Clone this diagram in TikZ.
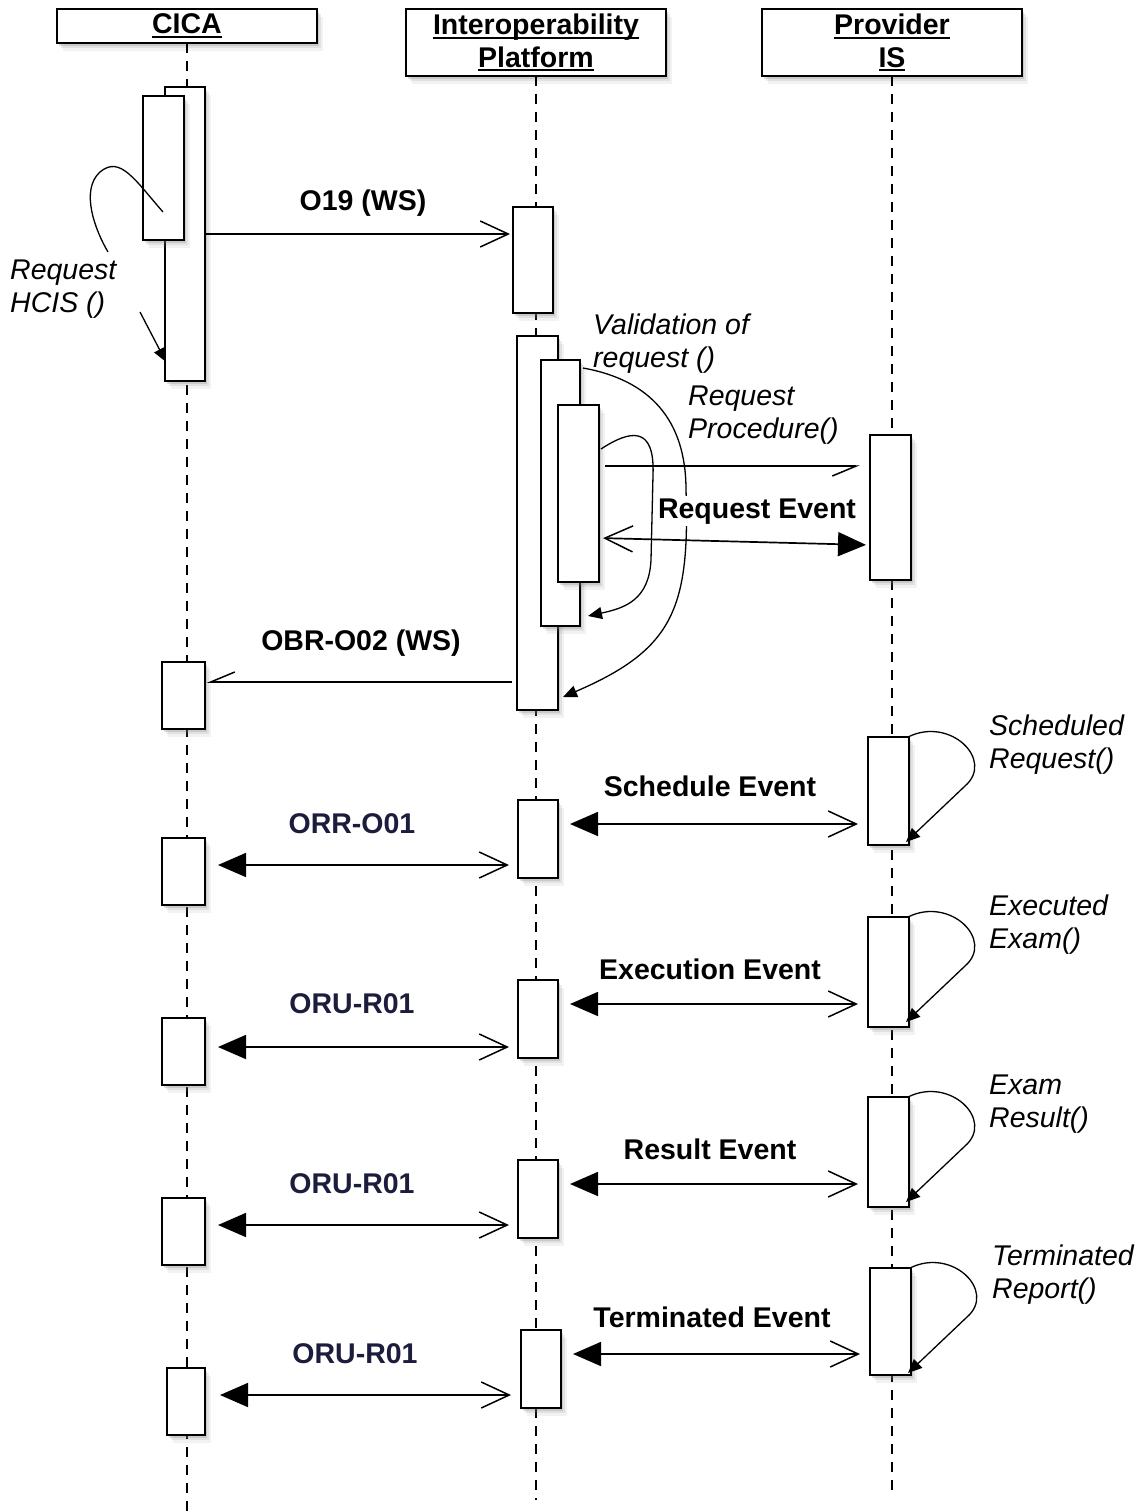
\documentclass[tikz,border=0pt]{standalone}
\usepackage{fontspec}
\setmainfont{Liberation Sans}
\usetikzlibrary{arrows.meta,shadows}
\definecolor{navy}{RGB}{28,28,60}
\newcommand\myul[1]{\setbox0\hbox{#1}\rlap{\rule[-4pt]{\wd0}{2pt}}\box0}
\begin{document}
\begin{tikzpicture}[x=1pt,y=-1pt,
  softshadow/.style={drop shadow={shadow xshift=6pt,shadow yshift=-8pt,opacity=0.10},
     drop shadow={shadow xshift=4pt,shadow yshift=-5pt,opacity=0.15},
     drop shadow={shadow xshift=2pt,shadow yshift=-3pt,opacity=0.25}},
  act/.style={softshadow,draw,line width=1.6pt,fill=white,anchor=north west,inner sep=0pt,outer sep=0pt},
  hdr/.style={softshadow,draw,line width=1.8pt,fill=white,inner sep=0pt,outer sep=0pt,anchor=north west,
     minimum width=260pt,font=\bfseries\fontsize{28.5}{32.5}\selectfont,align=center},
  life/.style={line width=1.3pt,dash pattern=on 10pt off 8pt},
  msg/.style={line width=1.7pt},
  lbl/.style={font=\bfseries\fontsize{28.5}{32.5}\selectfont,inner sep=2pt,anchor=base},
  nlbl/.style={lbl,text=navy},
  ilbl/.style={font=\itshape\fontsize{28.5}{32.5}\selectfont,align=left,anchor=north west,inner sep=0pt},
  selfc/.style={line width=1.3pt},
  obarb/.tip={Straight Barb[length=28pt,width=26pt,line width=1.5pt]},
  ftri/.tip={Triangle[length=28pt,width=24pt]},
  hbarb/.tip={Straight Barb[harpoon,swap,length=24pt,width=20pt,line width=1.5pt]},
  stri/.tip={Triangle[length=14pt,width=12pt]}]
\useasboundingbox (0,0) rectangle (1145,1511);
% headers
\node[hdr,minimum height=34pt] (cica) at (57,9) {\myul{CICA}};
\node[hdr,minimum height=67pt] (iop) at (406,9) {\myul{Interoperability}\\\myul{Platform}};
\node[hdr,minimum height=67pt] (prov) at (762,9) {\myul{Provider}\\\myul{IS}};
% lifelines
\coordinate (endA) at (185,1511);
\coordinate (endB) at (537,1500);
\coordinate (endC) at (891,1490);
\draw[life] (cica.south) -- (cica.south |- endA);
\draw[life] (iop.south) -- (iop.south |- endB);
\draw[life] (prov.south) -- (prov.south |- endC);
% activations
\node[act,minimum width=40pt,minimum height=294pt] (C1big) at (165,87) {};
\node[act,minimum width=41pt,minimum height=144pt] (C1in) at (143,96) {};
\node[act,minimum width=40pt,minimum height=106pt] (I1) at (513,207) {};
\node[act,minimum width=41pt,minimum height=374pt] (I2) at (517,336) {};
\node[act,minimum width=39pt,minimum height=266pt] (I3) at (541,360) {};
\node[act,minimum width=41pt,minimum height=177pt] (I4) at (558,405) {};
\node[act,minimum width=41pt,minimum height=145pt] (P1) at (870,435) {};
\node[act,minimum width=43pt,minimum height=67pt] (C2) at (162,662) {};
\node[act,minimum width=41pt,minimum height=108pt] (P2) at (868,737) {};
\node[act,minimum width=40pt,minimum height=78pt] (I5) at (518,800) {};
\node[act,minimum width=43pt,minimum height=67pt] (C3) at (162,838) {};
\node[act,minimum width=41pt,minimum height=110pt] (P3) at (868,917) {};
\node[act,minimum width=40pt,minimum height=78pt] (I6) at (518,980) {};
\node[act,minimum width=43pt,minimum height=67pt] (C4) at (162,1018) {};
\node[act,minimum width=41pt,minimum height=110pt] (P4) at (868,1097) {};
\node[act,minimum width=40pt,minimum height=78pt] (I7) at (518,1160) {};
\node[act,minimum width=43pt,minimum height=67pt] (C5) at (162,1198) {};
\node[act,minimum width=41pt,minimum height=107pt] (P5) at (870,1268) {};
\node[act,minimum width=40pt,minimum height=78pt] (I8) at (521,1330) {};
\node[act,minimum width=38pt,minimum height=67pt] (C6) at (167,1368) {};
% self calls
\draw[selfc] (163,212) .. controls (135,180) and (120,155) .. (100,172) .. controls (80,190) and (95,230) .. (108,252);
\draw[selfc,-stri] (140,312) -- (166,362);
\draw[selfc,-stri] (583,368) .. controls (650,380) and (686,420) .. (686,490) .. controls (690,610) and (672,650) .. (563,697);
\draw[selfc,-stri] (601,449) .. controls (630,430) and (655,425) .. (653,475) -- (651,560) .. controls (649,600) and (625,608) .. (588,616);
\draw[selfc,-stri] (908,737) .. controls (950,716) and (995,760) .. (965,786) -- (906,842);
\draw[selfc,-stri] (908,917) .. controls (950,896) and (995,940) .. (965,966) -- (906,1022);
\draw[selfc,-stri] (908,1097) .. controls (950,1076) and (995,1120) .. (965,1146) -- (906,1202);
\draw[selfc,-stri] (910,1268) .. controls (952,1247) and (997,1291) .. (967,1317) -- (908,1373);
% messages
\draw[msg,-obarb,shorten >=3pt] (C1big.east |- 0,234) -- (I1.west |- 0,234);
\node[lbl] (l1) at (363,211) {O19 (WS)};
\draw[msg,-hbarb,shorten <=6pt,shorten >=10pt] (I4.east |- 0,466) -- (P1.west |- 0,466);
\draw[msg,obarb-ftri,shorten <=4pt,shorten >=4pt] (I4.east |- 0,538) -- (P1.west |- 0,545);
\node[lbl,fill=white] (l2) at (757,518) {Request Event};
\draw[msg,-hbarb,shorten <=5pt,shorten >=2pt] (I2.west |- 0,682) -- (C2.east |- 0,682);
\node[lbl] (l3) at (361,650) {OBR-O02 (WS)};
% schedule
\draw[msg,ftri-obarb,shorten <=12pt,shorten >=10pt] (I5.east |- 0,824) -- (P2.west |- 0,824);
\node[lbl] (l4) at (710,796) {Schedule Event};
\draw[msg,ftri-obarb,shorten <=13pt,shorten >=9pt] (C3.east |- 0,865) -- (I5.west |- 0,865);
\node[nlbl] (l5) at (352,833) {ORR-O01};
% execution
\draw[msg,ftri-obarb,shorten <=12pt,shorten >=10pt] (I6.east |- 0,1004) -- (P3.west |- 0,1004);
\node[lbl] (l6) at (710,979) {Execution Event};
\draw[msg,ftri-obarb,shorten <=13pt,shorten >=9pt] (C4.east |- 0,1047) -- (I6.west |- 0,1047);
\node[nlbl] (l7) at (352,1013) {ORU-R01};
% result
\draw[msg,ftri-obarb,shorten <=12pt,shorten >=10pt] (I7.east |- 0,1184) -- (P4.west |- 0,1184);
\node[lbl] (l8) at (710,1159) {Result Event};
\draw[msg,ftri-obarb,shorten <=13pt,shorten >=9pt] (C5.east |- 0,1225) -- (I7.west |- 0,1225);
\node[nlbl] (l9) at (352,1193) {ORU-R01};
% terminated
\draw[msg,ftri-obarb,shorten <=12pt,shorten >=10pt] (I8.east |- 0,1354) -- (P5.west |- 0,1354);
\node[lbl] (l10) at (712,1327) {Terminated Event};
\draw[msg,ftri-obarb,shorten <=15pt,shorten >=10pt] (C6.east |- 0,1395) -- (I8.west |- 0,1395);
\node[nlbl] (l11) at (355,1363) {ORU-R01};
% italic labels
\node[ilbl] (t1) at (10,260) {Request\\HCIS ()};
\node[ilbl] (t2) at (593,314) {Validation of\\request ()};
\node[ilbl] (t3) at (688,386) {Request\\Procedure()};
\node[ilbl] (t4) at (989,715) {Scheduled\\Request()};
\node[ilbl] (t5) at (989,895) {Executed\\Exam()};
\node[ilbl] (t6) at (989,1075) {Exam\\Result()};
\node[ilbl] (t7) at (992,1245) {Terminated\\Report()};
\end{tikzpicture}
\end{document}
